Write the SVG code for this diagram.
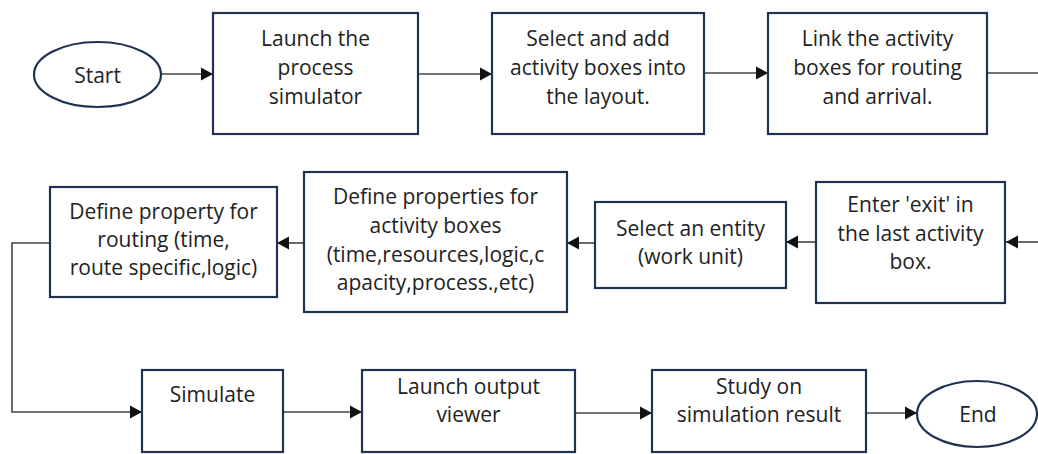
<svg xmlns="http://www.w3.org/2000/svg" width="1038" height="454" viewBox="0 0 1038 454">
<defs>
<marker id="ah" markerWidth="14" markerHeight="14" refX="12" refY="7" orient="auto" markerUnits="userSpaceOnUse">
<path d="M0,0.5 L12,7 L0,13.5 Z" fill="#111"/>
</marker>
<style>
.box{fill:#fff;stroke:#1f3251;stroke-width:2.2}
.t{font-family:"Open Sans","Noto Sans",sans-serif;font-size:21px;fill:#222;text-anchor:middle}
.c{fill:none;stroke:#444;stroke-width:1.6}
</style>
</defs>
<rect width="1038" height="454" fill="#fff"/>
<g id="connectors">
<path class="c" d="M161,74 L213,74" marker-end="url(#ah)"/>
<path class="c" d="M418,74 L492,74" marker-end="url(#ah)"/>
<path class="c" d="M704,73 L768,73" marker-end="url(#ah)"/>
<path class="c" d="M987,73 L1038,73"/>
<path class="c" d="M1038,242 L1006,242" marker-end="url(#ah)"/>
<path class="c" d="M816,242 L786,242" marker-end="url(#ah)"/>
<path class="c" d="M595,243 L567,243" marker-end="url(#ah)"/>
<path class="c" d="M304,243 L277,243" marker-end="url(#ah)"/>
<path class="c" d="M50,243 L12,243 L12,412 L142,412" marker-end="url(#ah)"/>
<path class="c" d="M283,412 L362,412" marker-end="url(#ah)"/>
<path class="c" d="M575,413 L652,413" marker-end="url(#ah)"/>
<path class="c" d="M866,413 L917,413" marker-end="url(#ah)"/>
</g>
<g id="start">
<ellipse class="box" cx="97.5" cy="74.5" rx="63.5" ry="32.5"/>
<text class="t" x="97.5" y="83">Start</text>
</g>
<g id="launch-simulator">
<rect class="box" x="213" y="13" width="205" height="121"/>
<text class="t" x="315.5" y="45.5">Launch the</text>
<text class="t" x="315.5" y="75">process</text>
<text class="t" x="315.5" y="104">simulator</text>
</g>
<g id="select-add">
<rect class="box" x="492" y="13" width="212" height="121"/>
<text class="t" x="598" y="45.5">Select and add</text>
<text class="t" x="598" y="75">activity boxes into</text>
<text class="t" x="598" y="104">the layout.</text>
</g>
<g id="link-boxes">
<rect class="box" x="768" y="13" width="219" height="121"/>
<text class="t" x="877.5" y="45.5">Link the activity</text>
<text class="t" x="877.5" y="75">boxes for routing</text>
<text class="t" x="877.5" y="104">and arrival.</text>
</g>
<g id="enter-exit">
<rect class="box" x="816" y="182" width="189" height="121"/>
<text class="t" x="910.5" y="212">Enter 'exit' in</text>
<text class="t" x="910.5" y="241">the last activity</text>
<text class="t" x="910.5" y="269">box.</text>
</g>
<g id="select-entity">
<rect class="box" x="595" y="202" width="191" height="86"/>
<text class="t" x="690.5" y="236">Select an entity</text>
<text class="t" x="690.5" y="264">(work unit)</text>
</g>
<g id="define-properties">
<rect class="box" x="304" y="172" width="263" height="140"/>
<text class="t" x="435.5" y="204">Define properties for</text>
<text class="t" x="435.5" y="233">activity boxes</text>
<text class="t" x="435.5" y="262">(time,resources,logic,c</text>
<text class="t" x="435.5" y="290">apacity,process.,etc)</text>
</g>
<g id="define-routing">
<rect class="box" x="50" y="187" width="227" height="110"/>
<text class="t" x="163.5" y="219">Define property for</text>
<text class="t" x="163.5" y="247">routing (time,</text>
<text class="t" x="163.5" y="275">route specific,logic)</text>
</g>
<g id="simulate">
<rect class="box" x="142" y="370" width="141" height="82"/>
<text class="t" x="212.5" y="402">Simulate</text>
</g>
<g id="launch-viewer">
<rect class="box" x="362" y="370" width="213" height="82"/>
<text class="t" x="468.5" y="394">Launch output</text>
<text class="t" x="468.5" y="422">viewer</text>
</g>
<g id="study">
<rect class="box" x="652" y="370" width="214" height="82"/>
<text class="t" x="759" y="394">Study on</text>
<text class="t" x="759" y="422">simulation result</text>
</g>
<g id="end">
<ellipse class="box" cx="977" cy="414" rx="60" ry="33"/>
<text class="t" x="978" y="422">End</text>
</g>
</svg>
